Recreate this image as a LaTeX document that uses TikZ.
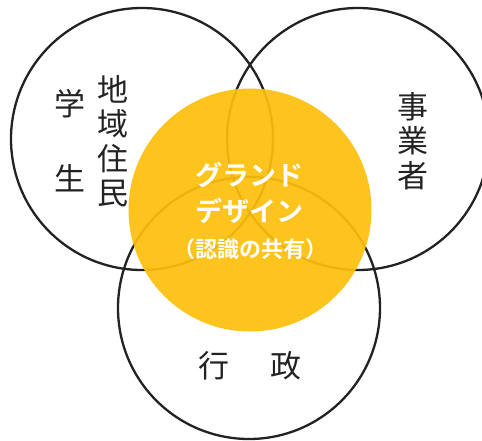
\documentclass[tikz,border=0pt]{standalone}
\usepackage{fontspec}
\newfontfamily\cjk{Noto Sans CJK JP}
\newfontfamily\cjkb{Noto Sans CJK JP Bold}
\definecolor{ring}{HTML}{222222}
\definecolor{gold}{HTML}{FDBF0C}
\begin{document}
\begin{tikzpicture}[x=1pt,y=-1pt,
  ringc/.style={circle, draw=ring, line width=2.3pt, inner sep=0pt},
  blk/.style={font=\cjk\fontsize{31}{34.5}\selectfont, text=ring, align=center, inner sep=0pt},
  wht/.style={font=\cjkb\fontsize{27}{30}\selectfont, text=white, align=center, inner sep=0pt}]
\useasboundingbox (0,0) rectangle (482,441);
\node[ringc, minimum size=262pt] (left) at (142,139) {};
\node[ringc, minimum size=262pt] (right) at (358,139) {};
\node[ringc, minimum size=262pt] (bottom) at (249,308) {};
\node[circle, fill=gold, fill opacity=0.93, inner sep=0pt, minimum size=243pt] (core) at (250,210) {};
\node[blk] (jumin) at (113,141) {地\\域\\住\\民};
\node[blk] (gaku) at (70,104) {学};
\node[blk] (sei) at (70,178) {生};
\node[blk] (jigyo) at (413,141) {事\\業\\者};
\node[blk] (gyo) at (214,366) {行};
\node[blk] (sei2) at (286,366) {政};
\node[wht] (gd1) at (249,175) {グランド};
\node[wht] (gd2) at (249,211) {デザイン};
\node[wht, font=\cjkb\fontsize{22}{24}\selectfont] (gd3) at (250,249) {（認識の共有）};
\end{tikzpicture}
\end{document}
